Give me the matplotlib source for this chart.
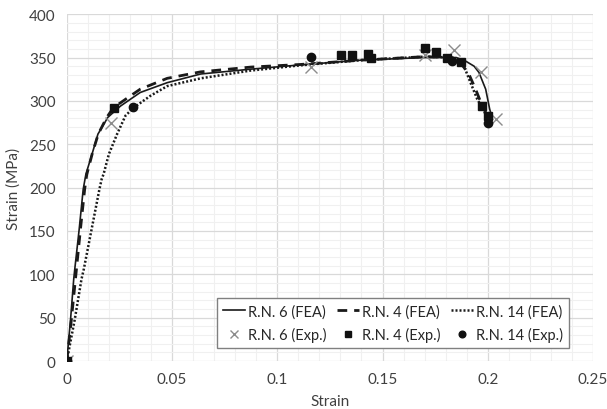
import matplotlib.pyplot as plt
from matplotlib.ticker import MultipleLocator

plt.rcParams['font.family'] = ['Lato', 'DejaVu Sans']

# FEA curves
fea6_x = [0, 0.0018, 0.0033, 0.0038, 0.0059, 0.0078, 0.0091, 0.012, 0.0148, 0.0171, 0.0195, 0.0255,
          0.0349, 0.0477, 0.0636, 0.0875, 0.111, 0.14, 0.17, 0.185, 0.1894, 0.1935, 0.1958, 0.199,
          0.2009, 0.2022]
fea6_y = [0, 48, 94.5, 106, 152, 198, 215.6, 238.6, 261.7, 271, 281, 294,
          309.7, 321, 331, 336.6, 341.5, 347, 350, 350, 346, 340, 332.8, 313.5,
          290.5, 279]

fea4_x = [0, 0.0022, 0.0046, 0.0065, 0.0085, 0.0095, 0.0122, 0.015, 0.019, 0.0221, 0.028, 0.0349,
          0.0477, 0.0636, 0.0875, 0.111, 0.14, 0.17, 0.183, 0.187, 0.191, 0.1942, 0.1974, 0.2003]
fea4_y = [0, 48, 106, 152, 198, 215, 240, 262, 281, 292, 302, 313.5,
          326, 333.5, 339, 342, 347, 351, 350, 344, 331, 313.5, 294, 281]

fea14_x = [0, 0.0038, 0.007, 0.0081, 0.0118, 0.0155, 0.0166, 0.0175, 0.02, 0.0239, 0.0279, 0.0317,
           0.0397, 0.0477, 0.0636, 0.0875, 0.111, 0.14, 0.17, 0.183, 0.1887, 0.1918, 0.195, 0.1982,
           0.2006]
fea14_y = [0, 48, 94.5, 106, 152, 198, 210, 215.6, 238.6, 261.7, 283, 292,
           305.8, 317, 326, 335, 341, 347, 351, 350, 340, 321, 302, 288.5,
           275]

# experimental points
exp6_x = [0, 0.0212, 0.116, 0.1703, 0.1839, 0.1966, 0.2038]
exp6_y = [0, 275, 339, 352.7, 358.8, 332.8, 279]

exp4_x = [0, 0.0223, 0.1305, 0.1353, 0.143, 0.1445, 0.1703, 0.1756, 0.1804, 0.1875, 0.1971, 0.2003]
exp4_y = [0, 291.5, 352.5, 352.5, 354, 349, 361, 356.5, 349, 345, 294, 282]

exp14_x = [0, 0.0314, 0.116, 0.183, 0.2003]
exp14_y = [0, 293, 351, 346, 275]

fig = plt.figure(figsize=(6.07, 4.10), dpi=100)
ax = fig.add_axes([0.110, 0.117, 0.867, 0.846])

l6, = ax.plot(fea6_x, fea6_y, '-', color='#1a1a1a', lw=1.2, label='R.N. 6 (FEA)', zorder=3)
l4, = ax.plot(fea4_x, fea4_y, color='#1a1a1a', lw=2.0, ls=(0, (3.5, 2.5)), label='R.N. 4 (FEA)', zorder=3)
l14, = ax.plot(fea14_x, fea14_y, color='#1a1a1a', lw=1.8, ls=(0, (0.8, 0.8)), label='R.N. 14 (FEA)', zorder=3)

e6, = ax.plot(exp6_x, exp6_y, 'x', color='#8c8c8c', ms=8, mew=1.0, ls='none', label='R.N. 6 (Exp.)', zorder=4)
e4, = ax.plot(exp4_x, exp4_y, 's', color='#111111', ms=6, ls='none', label='R.N. 4 (Exp.)', zorder=4)
e14, = ax.plot(exp14_x, exp14_y, 'o', color='#111111', ms=6, ls='none', label='R.N. 14 (Exp.)', zorder=4)

ax.set_xlim(0, 0.25)
ax.set_ylim(0, 400)
ax.xaxis.set_minor_locator(MultipleLocator(0.01))
ax.yaxis.set_major_locator(MultipleLocator(50))
ax.yaxis.set_minor_locator(MultipleLocator(10))
ax.set_xticks([0, 0.05, 0.1, 0.15, 0.2, 0.25])
ax.set_xticklabels(['0', '0.05', '0.1', '0.15', '0.2', '0.25'])
ax.grid(which='major', color='#d9d9d9', lw=0.9)
ax.grid(which='minor', color='#f0f0f0', lw=0.8)
ax.set_axisbelow(True)
for s in ax.spines.values():
    s.set_visible(False)
ax.tick_params(which='both', length=0, labelsize=11, colors='#404040', pad=8)

ax.set_xlabel('Strain', fontsize=11, color='#404040', labelpad=6)
ax.set_ylabel('Strain (MPa)', fontsize=11, color='#404040', labelpad=6)

# legend fills column by column, so interleave to get rows FEA / Exp.
handles = [l6, e6, l4, e4, l14, e14]
ax.legend(handles=handles, labels=[h.get_label() for h in handles], ncol=3,
          loc='lower right', bbox_to_anchor=(0.954, 0.037), fontsize=10.5,
          frameon=True, fancybox=False, edgecolor='#808080', framealpha=1,
          handlelength=1.5, handletextpad=0.2, columnspacing=0.75, labelspacing=0.6,
          borderpad=0.4, borderaxespad=0, markerscale=0.8, labelcolor='#262626')

fig.savefig('out.png', dpi=100)
